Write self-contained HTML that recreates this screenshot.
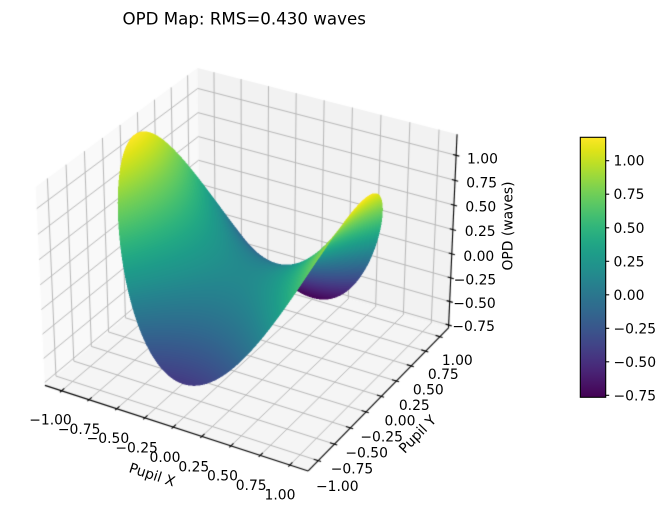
<!DOCTYPE html>
<html>
<head>
<meta charset="utf-8">
<style>
html,body{margin:0;padding:0;background:#fff;overflow:hidden;}
#wrap{position:relative;width:667px;height:513px;background:#fff;}
#c{position:absolute;left:0;top:0;width:667px;height:513px;}
#s{position:absolute;left:0;top:0;}
text{font-family:"DejaVu Sans","Liberation Sans",sans-serif;fill:#000;}
</style>
</head>
<body>
<div id="wrap">
<canvas id="c" width="667" height="513"></canvas>
<svg id="s" width="667" height="513" viewBox="0 0 667 513" xmlns="http://www.w3.org/2000/svg">
  <defs>
    <linearGradient id="vg" x1="0" y1="1" x2="0" y2="0">
      <stop offset="0" stop-color="#440154"/>
      <stop offset="0.05" stop-color="#471365"/>
      <stop offset="0.10" stop-color="#482475"/>
      <stop offset="0.15" stop-color="#463480"/>
      <stop offset="0.20" stop-color="#414487"/>
      <stop offset="0.25" stop-color="#3b528b"/>
      <stop offset="0.30" stop-color="#355f8d"/>
      <stop offset="0.35" stop-color="#2f6c8e"/>
      <stop offset="0.40" stop-color="#2a788e"/>
      <stop offset="0.45" stop-color="#25848e"/>
      <stop offset="0.50" stop-color="#21918c"/>
      <stop offset="0.55" stop-color="#1e9c89"/>
      <stop offset="0.60" stop-color="#22a884"/>
      <stop offset="0.65" stop-color="#2fb47c"/>
      <stop offset="0.70" stop-color="#44bf70"/>
      <stop offset="0.75" stop-color="#5ec962"/>
      <stop offset="0.80" stop-color="#7ad151"/>
      <stop offset="0.85" stop-color="#9bd93c"/>
      <stop offset="0.90" stop-color="#bddf26"/>
      <stop offset="0.95" stop-color="#dfe318"/>
      <stop offset="1" stop-color="#fde725"/>
    </linearGradient>
  </defs>

  <text x="244.2" y="24.3" font-size="16.67" text-anchor="middle">OPD Map: RMS=0.430 waves</text>

  <g font-size="13.89" text-anchor="middle">
    <text x="50.5" y="424.5">−1.00</text>
    <text x="79.2" y="433.9">−0.75</text>
    <text x="107.9" y="443.2">−0.50</text>
    <text x="136.6" y="452.6">−0.25</text>
    <text x="165.0" y="461.9">0.00</text>
    <text x="193.8" y="471.3">0.25</text>
    <text x="222.5" y="480.6">0.50</text>
    <text x="251.2" y="490.0">0.75</text>
    <text x="280.0" y="499.3">1.00</text>
  </g>

  <g font-size="13.89" text-anchor="middle">
    <text x="457.3" y="365.0">1.00</text>
    <text x="443.3" y="379.0">0.75</text>
    <text x="428.3" y="394.3">0.50</text>
    <text x="414.3" y="410.0">0.25</text>
    <text x="400.0" y="425.7">0.00</text>
    <text x="381.7" y="441.7">−0.25</text>
    <text x="366.7" y="457.7">−0.50</text>
    <text x="352.0" y="473.5">−0.75</text>
    <text x="337.3" y="491.0">−1.00</text>
  </g>

  <g font-size="13.89" text-anchor="middle">
    <text x="482.5" y="163.3">1.00</text>
    <text x="481.7" y="187.7">0.75</text>
    <text x="480.8" y="211.7">0.50</text>
    <text x="480.2" y="236.0">0.25</text>
    <text x="478.8" y="261.0">0.00</text>
    <text x="475.0" y="284.3">−0.25</text>
    <text x="474.5" y="308.0">−0.50</text>
    <text x="473.7" y="331.0">−0.75</text>
  </g>

  <g font-size="13.89" text-anchor="middle">
    <text transform="translate(151.7,475.8) rotate(18)" x="0" y="3.6">Pupil X</text>
    <text transform="translate(418.3,435) rotate(-46)" x="0" y="3.6">Pupil Y</text>
    <text transform="translate(507.4,226) rotate(-90)" x="0" y="5">OPD (waves)</text>
  </g>

  <rect x="580.3" y="137.3" width="25.4" height="260" fill="url(#vg)" stroke="#000" stroke-width="1.1"/>
  <g stroke="#000" stroke-width="1.1">
    <line x1="605.7" y1="160.7" x2="609.2" y2="160.7"/>
    <line x1="605.7" y1="194.2" x2="609.2" y2="194.2"/>
    <line x1="605.7" y1="227.8" x2="609.2" y2="227.8"/>
    <line x1="605.7" y1="261.3" x2="609.2" y2="261.3"/>
    <line x1="605.7" y1="294.8" x2="609.2" y2="294.8"/>
    <line x1="605.7" y1="328.3" x2="609.2" y2="328.3"/>
    <line x1="605.7" y1="361.8" x2="609.2" y2="361.8"/>
    <line x1="605.7" y1="395.3" x2="609.2" y2="395.3"/>
  </g>
  <g font-size="13.89" text-anchor="start">
    <text x="613.5" y="165.7">1.00</text>
    <text x="613.5" y="199.2">0.75</text>
    <text x="613.5" y="232.8">0.50</text>
    <text x="613.5" y="266.3">0.25</text>
    <text x="613.5" y="299.8">0.00</text>
    <text x="613.5" y="333.3">−0.25</text>
    <text x="613.5" y="366.8">−0.50</text>
    <text x="613.5" y="400.3">−0.75</text>
  </g>
</svg>
</div>
<script>
(function(){
  var cv=document.getElementById('c');
  var ctx=cv.getContext('2d');
  var CW=667, CH=513;

  var L=1.153, A=0.5714286, C=0.4285714, ZLO=-0.781, ZHI=1.209;
  var ZM=(ZLO+ZHI)/2, ZH=(ZHI-ZLO)/2;
  function P(x,y,z){
    var qx=x/L*A, qy=y/L*A, qz=(z-ZM)/ZH*C;
    var U=0.8660254*qx+0.5*qy;
    var V=-0.25*qx+0.4330127*qy+0.8660254*qz;
    var W=0.4330127*qx-0.75*qy+0.5*qz;
    var d=10-W;
    return [250.3+2640*U/d, 260.2-2640*V/d, W, z];
  }
  function poly(pts,fill){
    ctx.beginPath();
    for(var i=0;i<pts.length;i++){var q=P(pts[i][0],pts[i][1],pts[i][2]); if(i)ctx.lineTo(q[0],q[1]); else ctx.moveTo(q[0],q[1]);}
    ctx.closePath(); ctx.fillStyle=fill; ctx.fill();
  }
  function line(p1,p2,col,w){
    var a=P(p1[0],p1[1],p1[2]), b=P(p2[0],p2[1],p2[2]);
    ctx.beginPath(); ctx.moveTo(a[0],a[1]); ctx.lineTo(b[0],b[1]);
    ctx.strokeStyle=col; ctx.lineWidth=w; ctx.stroke();
  }

  ctx.fillStyle='#fff'; ctx.fillRect(0,0,CW,CH);
  poly([[-L,-L,ZLO],[-L,L,ZLO],[-L,L,ZHI],[-L,-L,ZHI]],'rgb(249,249,249)');
  poly([[-L,L,ZLO],[L,L,ZLO],[L,L,ZHI],[-L,L,ZHI]],'rgb(242,242,242)');
  poly([[-L,-L,ZLO],[L,-L,ZLO],[L,L,ZLO],[-L,L,ZLO]],'rgb(245,245,245)');

  var T=[-1,-0.75,-0.5,-0.25,0,0.25,0.5,0.75,1];
  var TZ=[-0.75,-0.5,-0.25,0,0.25,0.5,0.75,1];
  var G='#b8b8b8', GW=1.0;
  T.forEach(function(t){
    line([t,L,ZLO],[t,L,ZHI],G,GW);
    line([t,-L,ZLO],[t,L,ZLO],G,GW);
    line([-L,t,ZLO],[-L,t,ZHI],G,GW);
    line([-L,t,ZLO],[L,t,ZLO],G,GW);
  });
  TZ.forEach(function(t){
    line([-L,-L,t],[-L,L,t],G,GW);
    line([-L,L,t],[L,L,t],G,GW);
  });

  var K='#000', KW=1.1;
  line([-L,-L,ZLO],[L,-L,ZLO],K,KW);
  line([L,-L,ZLO],[L,L,ZLO],K,KW);
  line([L,L,ZLO],[L,L,ZHI],K,KW);

  var dl=2*L/12;
  T.forEach(function(t){
    line([t,-L-0.12*dl,ZLO],[t,-L+0.2*dl,ZLO],K,KW);
    line([L+0.12*dl,t,ZLO],[L-0.2*dl,t,ZLO],K,KW);
  });
  TZ.forEach(function(t){
    line([L+0.14*dl,L,t],[L-0.14*dl,L,t],K,KW);
  });

  var VS=['#440154','#471365','#482475','#463480','#414487','#3b528b','#355f8d','#2f6c8e','#2a788e','#25848e','#21918c','#1e9c89','#22a884','#2fb47c','#44bf70','#5ec962','#7ad151','#9bd93c','#bddf26','#dfe318','#fde725'];
  var VR=VS.map(function(h){return [parseInt(h.slice(1,3),16),parseInt(h.slice(3,5),16),parseInt(h.slice(5,7),16)];});
  function vir(t){
    t=Math.max(0,Math.min(1,t));
    var f=t*20, i=Math.min(19,Math.floor(f)), u=f-i, a=VR[i], b=VR[i+1];
    return [a[0]+(b[0]-a[0])*u, a[1]+(b[1]-a[1])*u, a[2]+(b[2]-a[2])*u];
  }

  var S=2, WW=CW*S, HH=CH*S;
  var zb=new Float32Array(WW*HH); zb.fill(-1e9);
  var zv=new Float32Array(WW*HH);
  function tri(a,b,c){
    var ax=a[0]*S, ay=a[1]*S, bx=b[0]*S, by=b[1]*S, cx=c[0]*S, cy=c[1]*S;
    var area=(bx-ax)*(cy-ay)-(cx-ax)*(by-ay);
    if(Math.abs(area)<1e-12) return;
    var minx=Math.max(0,Math.floor(Math.min(ax,bx,cx))), maxx=Math.min(WW-1,Math.ceil(Math.max(ax,bx,cx)));
    var miny=Math.max(0,Math.floor(Math.min(ay,by,cy))), maxy=Math.min(HH-1,Math.ceil(Math.max(ay,by,cy)));
    for(var y=miny;y<=maxy;y++){
      var py=y+0.5;
      for(var x=minx;x<=maxx;x++){
        var px=x+0.5;
        var w0=((bx-px)*(cy-py)-(cx-px)*(by-py))/area;
        var w1=((cx-px)*(ay-py)-(ax-px)*(cy-py))/area;
        var w2=1-w0-w1;
        if(w0<-1e-4||w1<-1e-4||w2<-1e-4) continue;
        var d=w0*a[2]+w1*b[2]+w2*c[2];
        var i=y*WW+x;
        if(d>zb[i]){zb[i]=d; zv[i]=w0*a[3]+w1*b[3]+w2*c[3];}
      }
    }
  }

  // z = 1.038 x^2 - 0.74 y^2 - 0.1625 y + 0.137
  function Z(x,y){return 1.038*x*x-0.74*y*y-0.1625*y+0.137;}
  var NR=60, NT=200;
  var grid=[];
  for(var i=0;i<=NR;i++){
    var row=[], r=i/NR;
    for(var j=0;j<=NT;j++){
      var t=j/NT*2*Math.PI, x=r*Math.cos(t), y=r*Math.sin(t);
      row.push(P(x,y,Z(x,y)));
    }
    grid.push(row);
  }
  for(var i=0;i<NR;i++){
    for(var j=0;j<NT;j++){
      var p0=grid[i][j], p1=grid[i+1][j], p2=grid[i+1][j+1], p3=grid[i][j+1];
      tri(p0,p1,p2); tri(p0,p2,p3);
    }
  }

  var VMIN=-0.765, VSPAN=1.94;
  var imgd=ctx.getImageData(0,0,CW,CH), D=imgd.data;
  for(var y=0;y<CH;y++){
    for(var x=0;x<CW;x++){
      var r=0,g=0,b=0,n=0;
      for(var sy=0;sy<S;sy++)for(var sx=0;sx<S;sx++){
        var ii=(y*S+sy)*WW+x*S+sx;
        if(zb[ii]>-1e8){var c=vir((zv[ii]-VMIN)/VSPAN); r+=c[0];g+=c[1];b+=c[2];n++;}
      }
      if(n>0){
        var o=(y*CW+x)*4, m=S*S;
        D[o]=(D[o]*(m-n)+r)/m;
        D[o+1]=(D[o+1]*(m-n)+g)/m;
        D[o+2]=(D[o+2]*(m-n)+b)/m;
        D[o+3]=255;
      }
    }
  }
  ctx.putImageData(imgd,0,0);
})();
</script>
</body>
</html>
